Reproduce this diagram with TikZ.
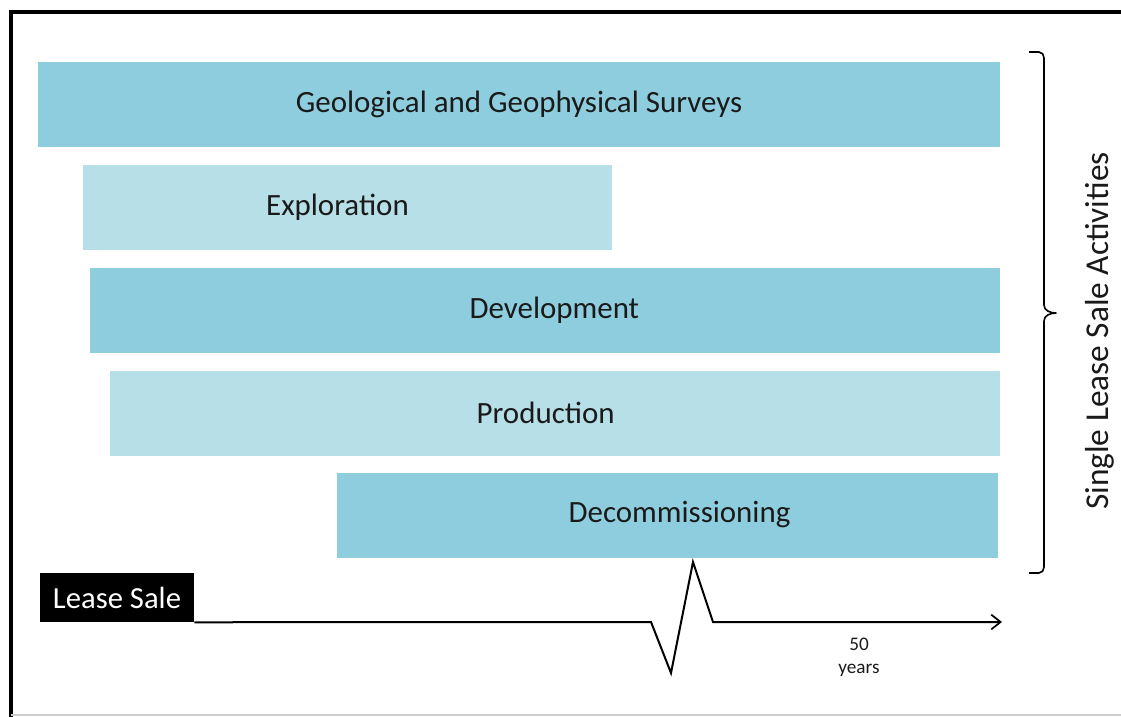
\documentclass[tikz,border=0pt]{standalone}
\usepackage{fontspec}
\setmainfont{Carlito}
\usetikzlibrary{arrows.meta}
\definecolor{bardark}{HTML}{8ECDDE}
\definecolor{barlight}{HTML}{B7DFE8}
\definecolor{txt}{HTML}{1A1A1A}
\begin{document}
\begin{tikzpicture}[x=0.75pt,y=-0.75pt,
  bar/.style={draw=none,inner sep=0pt,minimum height=63.75pt,font=\fontsize{23.2}{27}\selectfont,text=txt},
  dark/.style={bar,fill=bardark},
  light/.style={bar,fill=barlight},
  line/.style={line width=1.5pt,black}]
\useasboundingbox (0,0) rectangle (1121,717);
\fill[white] (0,0) rectangle (1121,717);
% frame
\draw[line width=3pt] (11,717) -- (11,12) -- (1121,12);
\draw[gray!40,line width=1pt] (11,715) -- (1121,715);
% bars
\node[dark,minimum width=721.5pt] (geo) at (519,104.5) {Geological and Geophysical Surveys};
\node[light,minimum width=396.75pt] (exp) at (347.5,207) {Exploration\hspace*{15pt}};
\node[dark,minimum width=682.5pt] (dev) at (545,310) {\hspace*{14pt}Development};
\node[light,minimum width=667.5pt] (pro) at (555,413) {Production\hspace*{14pt}};
\node[dark,minimum width=495.75pt] (dec) at (667.5,515) {\hspace*{18pt}Decommissioning};
% brace
\draw[line width=1.2pt,line join=round] (1029,52) -- (1039,52) to[out=0,in=90] (1044,58) -- (1044,305)
  to[out=-90,in=180] (1056,313) to[out=180,in=90] (1044,321) -- (1044,567) to[out=-90,in=0] (1039,573) -- (1029,573);
\node[rotate=90,font=\fontsize{25}{29}\selectfont,text=txt] (sla) at (1100,331) {Single Lease Sale Activities};
% timeline
\node[fill=black,text=white,inner sep=0pt,minimum width=115.5pt,minimum height=36.75pt,font=\fontsize{23}{27}\selectfont] (ls) at (117,597.5) {Lease Sale};
\coordinate (z1) at (651,622);
\coordinate (z2) at (671,673);
\coordinate (z3) at (693,562);
\coordinate (z4) at (713,622);
\coordinate (tend) at (1002,622);
\draw[line,line join=miter,-{Straight Barb[length=7pt,width=11pt,line width=1.3pt]}] (ls.south east) -- (z1) -- (z2) -- (z3) -- (z4) -- (tend);
\node[font=\fontsize{14.4}{16}\selectfont,text=txt,align=center] (yrs) at (859,657) {50\\[1pt]years};
\end{tikzpicture}
\end{document}
